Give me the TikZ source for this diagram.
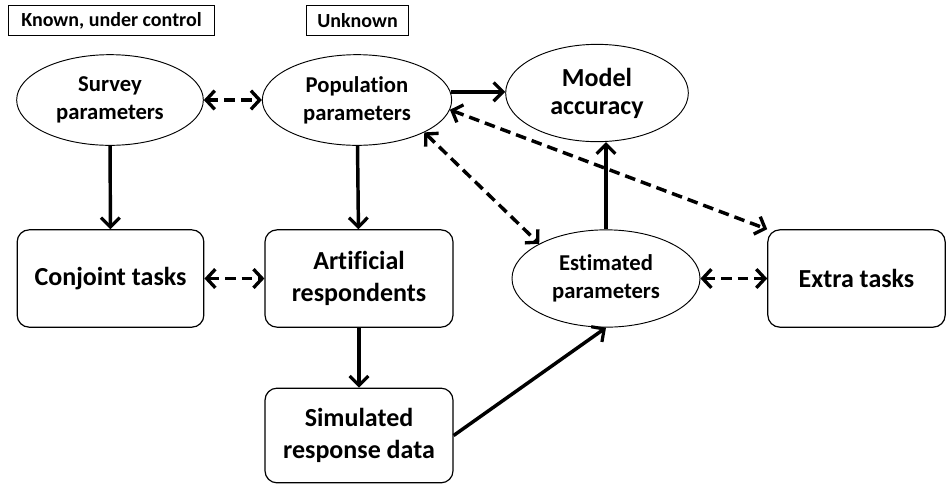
\documentclass[tikz,border=0pt]{standalone}
\usepackage{fontspec}
\setmainfont{Carlito}[Ligatures=NoCommon]
\usetikzlibrary{arrows.meta,shapes.geometric}

\begin{document}
\begin{tikzpicture}[
		x=0.75pt,
		y=-0.75pt,
		every node/.style={
			draw,
			align=center,
			inner sep=0pt,
			font=\bfseries,
		},
		ellnode/.style={
			ellipse,
			line width=0.7pt,
			minimum width=141pt,
			minimum height=68pt,
		},
		boxnode/.style={
			rectangle,
			rounded corners=9pt,
			line width=0.9pt,
			minimum width=141pt,
			minimum height=73pt,
		},
		tagnode/.style={
			rectangle,
			line width=0.7pt,
			minimum height=23pt,
			font=\bfseries\fontsize{15}{16}\selectfont,
		},
		smalltext/.style={font=\bfseries\fontsize{17}{21}\selectfont},
		bigtext/.style={font=\bfseries\fontsize{19.5}{24}\selectfont},
		flow/.style={
			line width=2.6pt,
			-{Straight Barb[length=7pt,width=14pt,line width=2.4pt]},
		},
		link/.style={
			line width=2.6pt,
			dash pattern=on 8pt off 4.5pt,
			{Straight Barb[length=6.5pt,width=14pt,line width=2.5pt]}-{Straight Barb[length=6.5pt,width=14pt,line width=2.5pt]},
		},
	]
		\useasboundingbox (0,0) rectangle (946,483);

		% tags
		\node[tagnode, minimum width=155pt] (known) at (111.5,20.5) {Known, under control};
		\node[tagnode, minimum width=77pt] (unknown) at (357.5,20.5) {Unknown};

		% ellipses
		\node[ellnode, smalltext, minimum width=140pt] (survey) at (110,100) {Survey\\parameters};
		\node[ellnode, smalltext, minimum width=142pt] (pop) at (357,100) {Population\\parameters};
		\node[ellnode, bigtext, font=\bfseries\fontsize{19.5}{21}\selectfont, minimum width=137pt, minimum height=73pt] (model) at (597,93) {Model\\accuracy};
		\node[ellnode, smalltext, minimum width=141pt, minimum height=73pt] (est) at (606,278.5) {Estimated\\parameters};

		% boxes
		\node[boxnode, bigtext, minimum width=140pt] (conj) at (110.5,278.5) {Conjoint tasks};
		\node[boxnode, bigtext] (art) at (359,278.5) {Artificial\\respondents};
		\node[boxnode, bigtext, minimum height=71pt] (sim) at (359,435.5) {Simulated\\response data};
		\node[boxnode, bigtext, minimum width=133pt] (extra) at (856.5,278.5) {Extra tasks};

		% solid arrows
		\draw[flow] (survey) -- (conj);
		\draw[flow] (pop) -- (art);
		\draw[flow] (art) -- (sim);
		\draw[flow] (pop.5) -- (pop.5 -| model.west);
		\draw[flow] (sim.east) -- (est.south);
		\draw[flow] (est.north) -- (est.north |- model.south);

		% dashed arrows
		\draw[link] (survey.east) -- (pop.west);
		\draw[link] (conj.east) -- (art.west);
		\draw[link] (est.east) -- (extra.west);
		\draw[link] (pop.south east) -- (est.north west);
		\draw[link] (pop.-6) -- (extra.north west);
	\end{tikzpicture}
\end{document}
